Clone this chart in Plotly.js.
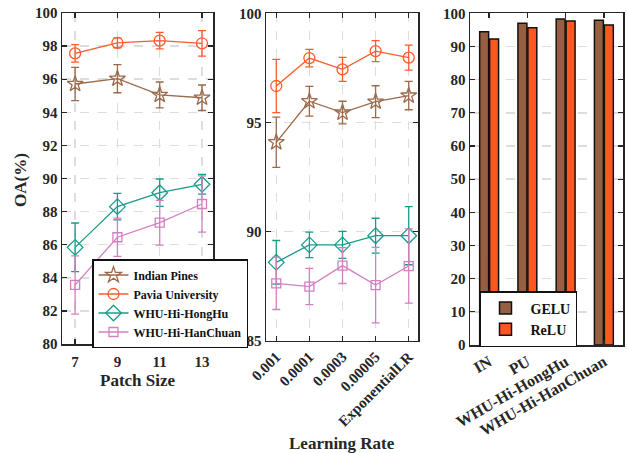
<!DOCTYPE html>
<html>
<head>
<meta charset="utf-8">
<script src="https://cdn.plot.ly/plotly-3.0.1.min.js"></script>
<style>html,body{margin:0;padding:0;background:#fff;}#chart{width:627px;height:453px;}</style>
</head>
<body>
<div id="chart"></div>
<script>
// ---- Data ----
const seriesNames = ['Indian Pines', 'Pavia University', 'WHU-Hi-HongHu', 'WHU-Hi-HanChuan'];

const patchSizes = [7, 9, 11, 13];
const ipPatch = [95.71, 96.03, 95.05, 94.88];
const ipPatchErr = [1.0, 0.85, 0.78, 0.77];
const puPatch = [97.56, 98.2, 98.33, 98.17];
const puPatchErr = [0.53, 0.3, 0.5, 0.77];
const hhPatch = [85.84, 88.3, 89.14, 89.65];
const hhPatchErr = [1.47, 0.8, 0.83, 0.6];
const hcPatch = [83.57, 86.45, 87.33, 88.46];
const hcPatchErr = [1.76, 1.15, 1.35, 1.7];

const lrLabels = ['0.001', '0.0001', '0.0003', '0.00005', 'ExponentialLR'];
const ipLR = [94.09, 95.97, 95.45, 95.95, 96.23];
const ipLRErr = [1.15, 0.68, 0.52, 0.73, 0.65];
const puLR = [96.67, 97.95, 97.43, 98.27, 97.97];
const puLRErr = [1.22, 0.4, 0.55, 0.48, 0.57];
const hhLR = [88.59, 89.39, 89.39, 89.81, 89.81];
const hhLRErr = [1.0, 0.58, 0.62, 0.8, 1.33];
const hcLR = [87.63, 87.48, 88.44, 87.55, 88.42];
const hcLRErr = [1.2, 0.83, 0.82, 1.73, 1.7];

const datasets = ['IN', 'PU', 'WHU-Hi-HongHu', 'WHU-Hi-HanChuan'];
const geluOA = [94.45, 97.0, 98.3, 97.9];
const reluOA = [92.25, 95.67, 97.7, 96.5];

// ---- Styles ----
const colors = ['#9a6a4a', '#ff5a2e', '#179c8a', '#d47fc0'];
const symbols = ['star-open', 'circle-open', 'diamond-open', 'square-open'];
const msizes = [12, 11, 12, 9];
const FONT = 'Liberation Serif, Times New Roman, serif';
const tickFont = {family: FONT, size: 15, color: '#262626', weight: 'bold'};

function lineTrace(x, y, err, i, xa, ya, showleg) {
  return {
    type: 'scatter', mode: 'lines+markers', x: x, y: y, name: seriesNames[i],
    xaxis: xa, yaxis: ya, showlegend: showleg, legend: 'legend',
    line: {color: colors[i], width: 1.3},
    marker: {symbol: symbols[i], size: msizes[i], color: colors[i], line: {width: 1.3, color: colors[i]}},
    error_y: {type: 'data', array: err, visible: true, color: colors[i], thickness: 1.3, width: 4},
    cliponaxis: false
  };
}

const traces = [
  lineTrace(patchSizes, ipPatch, ipPatchErr, 0, 'x', 'y', true),
  lineTrace(patchSizes, puPatch, puPatchErr, 1, 'x', 'y', true),
  lineTrace(patchSizes, hhPatch, hhPatchErr, 2, 'x', 'y', true),
  lineTrace(patchSizes, hcPatch, hcPatchErr, 3, 'x', 'y', true),
  lineTrace(lrLabels, ipLR, ipLRErr, 0, 'x2', 'y2', false),
  lineTrace(lrLabels, puLR, puLRErr, 1, 'x2', 'y2', false),
  lineTrace(lrLabels, hhLR, hhLRErr, 2, 'x2', 'y2', false),
  lineTrace(lrLabels, hcLR, hcLRErr, 3, 'x2', 'y2', false),
  {type: 'bar', x: datasets, y: geluOA, name: 'GELU', xaxis: 'x3', yaxis: 'y3', legend: 'legend2',
   marker: {color: '#965f41', line: {color: '#111', width: 1.5}}},
  {type: 'bar', x: datasets, y: reluOA, name: 'ReLU', xaxis: 'x3', yaxis: 'y3', legend: 'legend2',
   marker: {color: '#ff5722', line: {color: '#111', width: 1.5}}}
];

const W = 627, H = 453;
function xd(a, b) { return [a / W, b / W]; }
function yd(top, bot) { return [1 - bot / H, 1 - top / H]; }

const axBase = {
  showline: true, linecolor: '#262626', linewidth: 1.5, mirror: 'ticks',
  ticks: 'inside', ticklen: 5, tickwidth: 1.3, tickcolor: '#262626',
  tickfont: tickFont, zeroline: false,
  gridcolor: '#dddddd', griddash: 'dash', gridwidth: 1.5
};

const titleFont = {family: FONT, size: 17, color: '#262626', weight: 'bold'};

const layout = {
  width: W, height: H,
  margin: {l: 0, r: 0, t: 0, b: 0},
  paper_bgcolor: '#fff', plot_bgcolor: '#fff',
  showlegend: true,
  barmode: 'group', bargap: 0.48, bargroupgap: 0.1,
  xaxis: Object.assign({}, axBase, {domain: xd(62, 213), anchor: 'y', range: [6.38, 13.52],
    tickvals: patchSizes, showgrid: true, ticklabelstandoff: 3}),
  yaxis: Object.assign({}, axBase, {domain: yd(13, 344), anchor: 'x', range: [80, 100], dtick: 2, showgrid: true}),
  xaxis2: Object.assign({}, axBase, {domain: xd(266, 418), anchor: 'y2', range: [-0.31, 4.28],
    type: 'category', tickangle: -45, showgrid: true}),
  yaxis2: Object.assign({}, axBase, {domain: yd(13.3, 340.7), anchor: 'x2', range: [85, 100], dtick: 5, showgrid: true}),
  xaxis3: Object.assign({}, axBase, {domain: xd(470, 623), anchor: 'y3', range: [-0.5, 3.5],
    type: 'category', tickangle: -30, showgrid: false, tickfont: Object.assign({}, tickFont, {size: 16})}),
  yaxis3: Object.assign({}, axBase, {domain: yd(13.3, 345), anchor: 'x3', range: [0, 100], dtick: 10, showgrid: true, layer: 'below traces'}),
  legend: {x: 92 / W, y: 1 - 259 / H, xanchor: 'left', yanchor: 'top',
    bgcolor: '#fff', bordercolor: '#111', borderwidth: 1.5,
    font: {family: FONT, size: 12, color: '#111', weight: 'bold'}, itemwidth: 30, tracegroupgap: 0},
  legend2: {x: 479 / W, y: 1 - 291 / H, xanchor: 'left', yanchor: 'top',
    bgcolor: '#fff', bordercolor: '#111', borderwidth: 1.5,
    font: {family: FONT, size: 14, color: '#111', weight: 'bold'}, itemwidth: 40},
  annotations: [
    {text: 'Patch Size', xref: 'paper', yref: 'paper', x: 138 / W, y: 1 - 380 / H,
     xanchor: 'center', yanchor: 'middle', showarrow: false, font: titleFont},
    {text: 'Learning Rate', xref: 'paper', yref: 'paper', x: 342 / W, y: 1 - 443 / H,
     xanchor: 'center', yanchor: 'middle', showarrow: false, font: titleFont},
    {text: 'OA(%)', xref: 'paper', yref: 'paper', x: 20 / W, y: 1 - 180 / H, textangle: -90,
     xanchor: 'center', yanchor: 'middle', showarrow: false, font: titleFont}
  ]
};

Plotly.newPlot('chart', traces, layout, {staticPlot: true, displayModeBar: false});
</script>
</body>
</html>
